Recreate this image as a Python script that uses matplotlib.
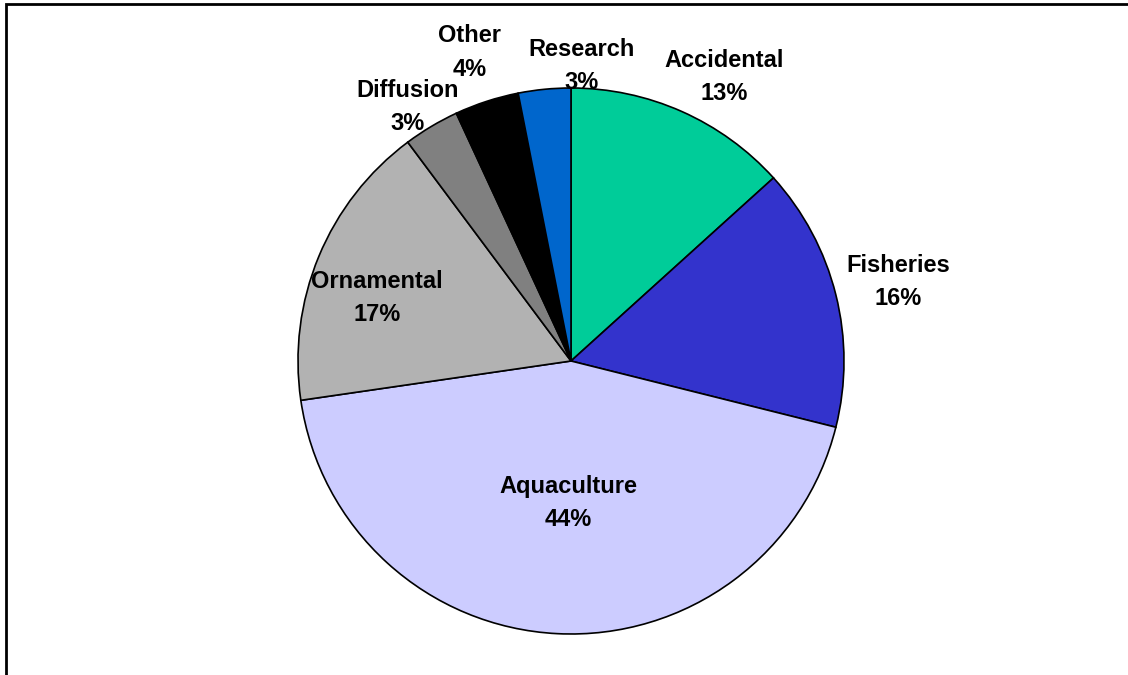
import matplotlib
matplotlib.use("Agg")
import matplotlib.pyplot as plt
from matplotlib.patches import Rectangle

# slice data, clockwise from 12 o'clock
sources = ["Accidental", "Fisheries", "Aquaculture", "Ornamental",
           "Diffusion", "Other", "Research"]
shares = [13.3, 15.6, 43.8, 17.1, 3.3, 3.8, 3.1]
colors = ["#00CC99", "#3333CC", "#CCCCFF", "#B2B2B2",
          "#808080", "#000000", "#0066CC"]

# label centres in pie-radius units (pie centre at 0,0)
label_pos = [(0.56, 1.04), (1.20, 0.29), (-0.01, -0.52), (-0.71, 0.23),
             (-0.60, 0.93), (-0.37, 1.13), (0.04, 1.08)]

plt.rcParams["font.family"] = ["Liberation Sans", "DejaVu Sans"]

fig = plt.figure(figsize=(11.28, 6.75), dpi=100)
ax = fig.add_axes([0, 0, 1, 1])

wedges, _ = ax.pie(shares, colors=colors, startangle=90, counterclock=False,
                   radius=1.0, center=(0, 0),
                   wedgeprops=dict(edgecolor="black", linewidth=1.2))

for name, val, (x, y) in zip(sources, shares, label_pos):
    ax.text(x, y, f"{name}\n{round(val):.0f}%", ha="center", va="center",
            fontsize=17, fontweight="bold", linespacing=1.57)

# pie centre at pixel (571, 361), radius 273 px
ax.set_xlim(-571 / 273, (1128 - 571) / 273)
ax.set_ylim(-(675 - 361) / 273, 361 / 273)
ax.set_aspect("auto")
ax.axis("off")

# chart frame (right and bottom edges fall outside the picture)
fig.patches.append(Rectangle((6 / 1128, -0.1), 1.2, (675 - 4) / 675 + 0.1,
                             transform=fig.transFigure, fill=False,
                             edgecolor="black", linewidth=2))

fig.savefig("out.png", dpi=100)
